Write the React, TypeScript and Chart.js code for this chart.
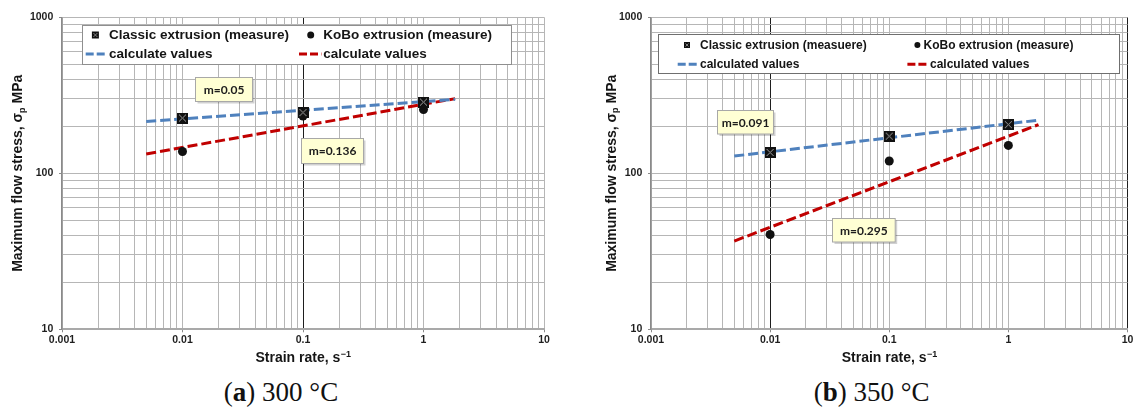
import React, { useEffect, useRef } from 'react';
import { Chart, registerables } from 'chart.js';
Chart.register(...registerables);

// ---------- data ----------
const strainRates = [0.01, 0.1, 1];
const classic300 = [226, 245, 286];
const kobo300 = [138, 233, 256];
const fitRates300 = [0.005, 1.83];
const classicFit300 = [215, 298];
const koboFit300 = [133, 301];

const classic350 = [136, 173, 205];
const kobo350 = [40.5, 120, 151];
const fitRates350 = [0.005, 1.79];
const classicFit350 = [129, 219];
const koboFit350 = [36.8, 205];

const xTickValues = [0.001, 0.01, 0.1, 1, 10];
const xTickLabels = ['0.001', '0.01', '0.1', '1', '10'];
const yTickValues = [10, 100, 1000];
const yTickLabels = ['10', '100', '1000'];

const legend300 = ['Classic extrusion (measure)', 'KoBo extrusion (measure)', 'calculate values', 'calculate values'];
const legend350 = ['Classic extrusion (measuere)', 'KoBo extrusion (measure)', 'calculated values', 'calculated values'];
const slopes300 = ['m=0.05', 'm=0.136'];
const slopes350 = ['m=0.091', 'm=0.295'];
const xTitleParts = ['Strain rate, s', '\u22121'];
const yTitleParts = ['Maximum flow stress, \u03c3', 'p', ' MPa'];
const captionLetters = ['a', 'b'];
const captionTexts = [' 300 \u00b0C', ' 350 \u00b0C'];

// ---------- styles ----------
const BLUE = '#4f81bd';
const RED = '#c00000';
const GRID = '#b6b6b6';
const CANVAS_H = 372;
const PLOT_BOTTOM = 329.3;
const PLOT_TOP = 17.3;

const toXY = (xs: number[], ys: number[]) => xs.map((x, i) => ({ x, y: ys[i] }));

function buildLogTicks(vals: number[]) {
  const out: number[] = [];
  const e0 = Math.round(Math.log10(vals[0]));
  const e1 = Math.round(Math.log10(vals[vals.length - 1]));
  for (let e = e0; e < e1; e++) {
    for (let m = 1; m <= 9; m++) out.push(m * Math.pow(10, e));
  }
  out.push(vals[vals.length - 1]);
  return out;
}
const same = (a: number, b: number) => Math.abs(Math.log10(a) - Math.log10(b)) < 1e-6;
const labelFor = (v: number, vals: number[], labels: string[]) => {
  const i = vals.findIndex((t) => same(t, v));
  return i >= 0 ? labels[i] : '';
};

function makeSquareMarker(size: number) {
  const c = document.createElement('canvas');
  c.width = size;
  c.height = size;
  const g = c.getContext('2d')!;
  g.fillStyle = '#111';
  g.fillRect(0, 0, size, size);
  g.strokeStyle = '#a0a0a0';
  g.lineWidth = 1;
  g.beginPath();
  g.moveTo(2, 2);
  g.lineTo(size - 2, size - 2);
  g.moveTo(size - 2, 2);
  g.lineTo(2, size - 2);
  g.stroke();
  return c;
}

function drawSquare(ctx: CanvasRenderingContext2D, x: number, y: number, s: number) {
  ctx.fillStyle = '#111';
  ctx.fillRect(x - s / 2, y - s / 2, s, s);
  ctx.strokeStyle = '#9a9a9a';
  ctx.lineWidth = 0.8;
  ctx.beginPath();
  ctx.moveTo(x - s / 2 + 1.5, y - s / 2 + 1.5);
  ctx.lineTo(x + s / 2 - 1.5, y + s / 2 - 1.5);
  ctx.moveTo(x + s / 2 - 1.5, y - s / 2 + 1.5);
  ctx.lineTo(x - s / 2 + 1.5, y + s / 2 - 1.5);
  ctx.stroke();
}
function drawCircle(ctx: CanvasRenderingContext2D, x: number, y: number, r: number) {
  ctx.fillStyle = '#111';
  ctx.beginPath();
  ctx.arc(x, y, r, 0, Math.PI * 2);
  ctx.fill();
}
function drawDash(ctx: CanvasRenderingContext2D, x0: number, x1: number, y: number, color: string) {
  ctx.save();
  ctx.strokeStyle = color;
  ctx.lineWidth = 3;
  ctx.setLineDash([8, 3]);
  ctx.beginPath();
  ctx.moveTo(x0, y);
  ctx.lineTo(x1, y);
  ctx.stroke();
  ctx.restore();
}

const decorPlugin = {
  id: 'decor',
  afterDatasetsDraw(chart: any, _args: any, o: any) {
    const { ctx, chartArea: a } = chart;
    ctx.save();
    // legend box
    const L = o.legend;
    const bx = Math.round(a.left + L.x) + 0.5;
    const by = Math.round(a.top + L.y) + 0.5;
    ctx.fillStyle = '#ffffff';
    ctx.fillRect(bx, by, L.w, L.h);
    ctx.strokeStyle = L.border;
    ctx.lineWidth = 1;
    ctx.strokeRect(bx, by, Math.round(L.w), Math.round(L.h));
    const r0 = a.top + L.rows[0];
    const r1 = a.top + L.rows[1];
    drawSquare(ctx, a.left + L.markerX[0], r0, L.marker);
    drawCircle(ctx, a.left + L.markerX[1], r0, L.marker / 2);
    drawDash(ctx, a.left + L.dash[0][0], a.left + L.dash[0][1], r1, BLUE);
    drawDash(ctx, a.left + L.dash[1][0], a.left + L.dash[1][1], r1, RED);
    ctx.font = `bold ${L.font}px "Liberation Sans", Arial, sans-serif`;
    ctx.textBaseline = 'middle';
    ctx.textAlign = 'left';
    ctx.fillStyle = '#151515';
    ctx.fillText(o.labels[0], a.left + L.textX[0][0], r0 + 0.5);
    ctx.fillText(o.labels[1], a.left + L.textX[0][1], r0 + 0.5);
    ctx.fillText(o.labels[2], a.left + L.textX[1][0], r1 + 0.5);
    ctx.fillText(o.labels[3], a.left + L.textX[1][1], r1 + 0.5);

    // slope notes
    o.notes.forEach((n: any, i: number) => {
      const nx = Math.round(a.left + n.x) + 0.5;
      const ny = Math.round(a.top + n.y) + 0.5;
      ctx.fillStyle = 'rgba(0,0,0,0.18)';
      ctx.fillRect(nx + 2, ny + 2, n.w, n.h);
      ctx.fillStyle = '#ffffd4';
      ctx.fillRect(nx, ny, n.w, n.h);
      ctx.strokeStyle = '#a8a8a8';
      ctx.lineWidth = 1;
      ctx.strokeRect(nx, ny, n.w, n.h);
      ctx.fillStyle = '#1c1c1c';
      ctx.font = 'bold 12px Lato, "Open Sans", sans-serif';
      ctx.textAlign = 'center';
      ctx.textBaseline = 'middle';
      ctx.fillText(o.slopes[i], nx + n.w / 2, ny + n.h / 2 + 0.5);
    });

    // x title
    const xf = 'bold 14px "Liberation Sans", Arial, sans-serif';
    const xs = 'bold 9px "Liberation Sans", Arial, sans-serif';
    ctx.fillStyle = '#151515';
    ctx.textAlign = 'left';
    ctx.textBaseline = 'middle';
    ctx.font = xf;
    const w0 = ctx.measureText(xTitleParts[0]).width;
    ctx.font = xs;
    const w1 = ctx.measureText(xTitleParts[1]).width;
    const cx = (a.left + a.right) / 2;
    const tx = cx - (w0 + w1) / 2;
    ctx.font = xf;
    ctx.fillText(xTitleParts[0], tx, o.xTitleY);
    ctx.font = xs;
    ctx.fillText(xTitleParts[1], tx + w0 + 0.5, o.xTitleY - 4);

    // y title (rotated)
    const ys = 'bold 9px "Liberation Sans", Arial, sans-serif';
    ctx.font = xf;
    const p0 = ctx.measureText(yTitleParts[0]).width;
    const p2 = ctx.measureText(yTitleParts[2]).width;
    ctx.font = ys;
    const p1 = ctx.measureText(yTitleParts[1]).width;
    const total = p0 + p1 + p2;
    ctx.save();
    ctx.translate(o.yTitleX, (a.top + a.bottom) / 2);
    ctx.rotate(-Math.PI / 2);
    let px = -total / 2;
    ctx.font = xf;
    ctx.fillText(yTitleParts[0], px, 0);
    px += p0;
    ctx.font = ys;
    ctx.fillText(yTitleParts[1], px, 4);
    px += p1;
    ctx.font = xf;
    ctx.fillText(yTitleParts[2], px, 0);
    ctx.restore();

    ctx.restore();
  },
};

type PanelCfg = {
  left: number;
  width: number;
  yAxisWidth: number;
  padRight: number;
  darkX: number[];
  yTitleX: number;
  legend: any;
  notes: any[];
  labels: string[];
  slopes: string[];
  classic: number[];
  kobo: number[];
  fitRates: number[];
  classicFit: number[];
  koboFit: number[];
};

const panel300: PanelCfg = {
  left: 0,
  width: 567,
  yAxisWidth: 62,
  padRight: 23,
  darkX: [0.1],
  yTitleX: 18.3,
  legend: {
    x: 20, y: 7.7, w: 428.7, h: 39.3, border: '#8f8f8f', font: 13.5, marker: 7,
    rows: [17.7, 36.7], markerX: [33.4, 248.7],
    textX: [[47, 261.2], [47, 261.2]], dash: [[23.7, 45], [237, 259.4]],
  },
  notes: [
    { x: 133, y: 59.7, w: 57, h: 24 },
    { x: 239, y: 121, w: 62, h: 25 },
  ],
  labels: legend300,
  slopes: slopes300,
  classic: classic300,
  kobo: kobo300,
  fitRates: fitRates300,
  classicFit: classicFit300,
  koboFit: koboFit300,
};

const panel350: PanelCfg = {
  left: 567,
  width: 567,
  yAxisWidth: 84,
  padRight: 2.3,
  darkX: [0.01, 10],
  yTitleX: 44.7,
  legend: {
    x: 7, y: 16.7, w: 461, h: 38.7, border: '#6f6f6f', font: 12, marker: 6,
    rows: [27.7, 47], markerX: [36, 266.4],
    textX: [[49, 272.5], [49, 279]], dash: [[26.7, 48.2], [256.4, 278]],
  },
  notes: [
    { x: 65.7, y: 92.7, w: 56, h: 23.5 },
    { x: 181.3, y: 201, w: 62.7, h: 23.5 },
  ],
  labels: legend350,
  slopes: slopes350,
  classic: classic350,
  kobo: kobo350,
  fitRates: fitRates350,
  classicFit: classicFit350,
  koboFit: koboFit350,
};

const tickFont = { family: '"Liberation Sans", Arial, sans-serif', weight: 'bold' as const, size: 10.5 };

function Panel({ cfg }: { cfg: PanelCfg }) {
  const ref = useRef<HTMLCanvasElement>(null);
  useEffect(() => {
    const square = makeSquareMarker(11);
    const chart = new Chart(ref.current!, {
      type: 'scatter',
      data: {
        datasets: [
          { label: cfg.labels[0], data: toXY(strainRates, cfg.classic), pointStyle: square as any, pointRadius: 5.5, showLine: false },
          { label: cfg.labels[1], data: toXY(strainRates, cfg.kobo), pointStyle: 'circle', pointRadius: 4.5, backgroundColor: '#111', borderColor: '#111', borderWidth: 0, showLine: false },
          { label: cfg.labels[2], data: toXY(cfg.fitRates, cfg.classicFit), showLine: true, borderColor: BLUE, borderWidth: 3, borderDash: [10, 4], pointRadius: 0, fill: false },
          { label: cfg.labels[3], data: toXY(cfg.fitRates, cfg.koboFit), showLine: true, borderColor: RED, borderWidth: 3, borderDash: [10, 4], pointRadius: 0, fill: false },
        ],
      },
      options: {
        animation: false,
        responsive: false,
        maintainAspectRatio: false,
        events: [],
        layout: { padding: { top: PLOT_TOP, right: cfg.padRight, bottom: 0, left: 0 } },
        plugins: {
          legend: { display: false },
          tooltip: { enabled: false },
          decor: {
            legend: cfg.legend,
            notes: cfg.notes,
            labels: cfg.labels,
            slopes: cfg.slopes,
            xTitleY: 358.3,
            yTitleX: cfg.yTitleX,
          },
        } as any,
        scales: {
          x: {
            type: 'logarithmic',
            min: xTickValues[0],
            max: xTickValues[xTickValues.length - 1],
            afterBuildTicks: (s: any) => {
              s.ticks = buildLogTicks(xTickValues).map((v) => ({ value: v }));
            },
            afterFit: (s: any) => {
              s.height = CANVAS_H - PLOT_BOTTOM;
              s.paddingLeft = 0;
              s.paddingRight = 0;
            },
            ticks: {
              autoSkip: false,
              maxRotation: 0,
              minRotation: 0,
              padding: 2,
              font: tickFont,
              color: '#1e1e1e',
              callback: (v: any) => labelFor(Number(v), xTickValues, xTickLabels),
            },
            grid: {
              color: (c: any) => (c.tick && cfg.darkX.some((d) => same(d, c.tick.value)) ? '#1e1e1e' : GRID),
              lineWidth: 1,
              tickLength: 3,
              tickColor: (c: any) => (c.tick && xTickValues.some((d) => same(d, c.tick.value)) ? '#8a8a8a' : 'rgba(0,0,0,0)'),
            },
            border: { display: true, color: '#a9a9a9', width: 2 },
          },
          y: {
            type: 'logarithmic',
            min: yTickValues[0],
            max: yTickValues[yTickValues.length - 1],
            afterBuildTicks: (s: any) => {
              s.ticks = buildLogTicks(yTickValues).map((v) => ({ value: v }));
            },
            afterFit: (s: any) => {
              s.width = cfg.yAxisWidth;
              s.paddingTop = 0;
              s.paddingBottom = 0;
            },
            ticks: {
              autoSkip: false,
              padding: 5.7,
              font: tickFont,
              color: '#1e1e1e',
              callback: (v: any) => labelFor(Number(v), yTickValues, yTickLabels),
            },
            grid: {
              color: GRID,
              lineWidth: 1,
              tickLength: 3,
              tickColor: (c: any) => (c.tick && yTickValues.some((d) => same(d, c.tick.value)) ? '#8a8a8a' : 'rgba(0,0,0,0)'),
            },
            border: { display: true, color: '#8a8a8a', width: 1.5 },
          },
        },
      },
      plugins: [decorPlugin as any],
    });
    return () => chart.destroy();
  }, []);
  return (
    <canvas
      ref={ref}
      width={cfg.width}
      height={CANVAS_H}
      style={{ position: 'absolute', left: cfg.left, top: 0, width: cfg.width, height: CANVAS_H, display: 'block' }}
    />
  );
}

const captionCenters = [281, 871.6];

export default function App() {
  return (
    <div style={{ position: 'absolute', left: 0, top: 0, width: 1134, height: 408, background: '#fff', overflow: 'hidden' }}>
      <Panel cfg={panel300} />
      <Panel cfg={panel350} />
      {captionLetters.map((l, i) => (
        <div
          key={l}
          style={{
            position: 'absolute',
            left: captionCenters[i],
            top: 392,
            transform: 'translate(-50%, -50%)',
            fontFamily: '"Liberation Serif", "DejaVu Serif", serif',
            fontSize: 27,
            lineHeight: 1,
            whiteSpace: 'nowrap',
            color: '#111',
          }}
        >
          (<b>{l}</b>){captionTexts[i]}
        </div>
      ))}
    </div>
  );
}
